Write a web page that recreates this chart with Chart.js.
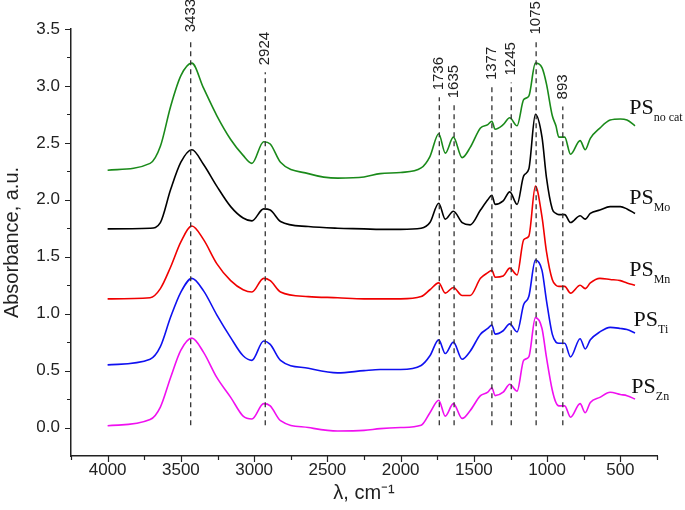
<!DOCTYPE html>
<html>
<head>
<meta charset="utf-8">
<script src="https://cdn.jsdelivr.net/npm/chart.js@4.4.0/dist/chart.umd.min.js"></script>
<style>
  html, body { margin: 0; padding: 0; background: #fff; }
</style>
</head>
<body>
<canvas id="espectroChart" width="685" height="510"></canvas>
<script>
// número de onda (cm-1), mesmo eixo para todas as amostras
const numerosDeOnda = [4000, 3710, 3640, 3570, 3500, 3425, 3345, 3255, 3160, 3075,
  3015, 2935, 2890, 2820, 2630, 2430, 2250, 2140, 2000, 1860,
  1800, 1740, 1695, 1640, 1580, 1525, 1455, 1405, 1377, 1355,
  1300, 1255, 1205, 1160, 1125, 1080, 1035, 1005, 965, 940,
  920, 880, 840, 775, 740, 705, 640, 570, 500, 455, 400];

const psNoCat = [2.26, 2.32, 2.47, 2.82, 3.09, 3.20, 2.98, 2.74, 2.53, 2.39,
  2.32, 2.51, 2.49, 2.33, 2.23, 2.19, 2.20, 2.23, 2.24, 2.28,
  2.38, 2.58, 2.41, 2.55, 2.37, 2.46, 2.63, 2.66, 2.69, 2.62,
  2.66, 2.72, 2.65, 2.88, 2.91, 3.20, 3.16, 3.02, 2.74, 2.65,
  2.55, 2.55, 2.40, 2.52, 2.44, 2.54, 2.63, 2.70, 2.71, 2.70, 2.65];

const psMo = [1.745, 1.75, 1.80, 2.09, 2.33, 2.44, 2.31, 2.12, 1.94, 1.84,
  1.815, 1.92, 1.91, 1.81, 1.765, 1.75, 1.745, 1.74, 1.74, 1.75,
  1.80, 1.97, 1.83, 1.90, 1.80, 1.78, 1.91, 2.00, 2.04, 1.96,
  1.99, 2.07, 1.96, 2.21, 2.27, 2.75, 2.55, 2.20, 1.92, 1.88,
  1.87, 1.87, 1.80, 1.86, 1.83, 1.88, 1.91, 1.94, 1.94, 1.92, 1.88];

const psMn = [1.13, 1.14, 1.22, 1.41, 1.63, 1.77, 1.65, 1.44, 1.29, 1.21,
  1.19, 1.31, 1.29, 1.19, 1.15, 1.14, 1.13, 1.13, 1.13, 1.15,
  1.21, 1.27, 1.18, 1.23, 1.16, 1.16, 1.31, 1.36, 1.38, 1.32,
  1.33, 1.40, 1.34, 1.65, 1.68, 2.12, 1.85, 1.55, 1.30, 1.25,
  1.24, 1.24, 1.18, 1.25, 1.22, 1.27, 1.31, 1.30, 1.29, 1.27, 1.25];

const psTi = [0.55, 0.60, 0.71, 0.97, 1.19, 1.31, 1.20, 0.99, 0.79, 0.63,
  0.59, 0.76, 0.73, 0.59, 0.52, 0.48, 0.50, 0.51, 0.51, 0.545,
  0.63, 0.77, 0.65, 0.75, 0.60, 0.67, 0.82, 0.87, 0.90, 0.82,
  0.85, 0.91, 0.84, 1.08, 1.15, 1.47, 1.38, 1.12, 0.82, 0.75,
  0.74, 0.74, 0.62, 0.78, 0.69, 0.77, 0.84, 0.88, 0.87, 0.86, 0.83];

const psZn = [0.015, 0.07, 0.18, 0.44, 0.68, 0.785, 0.66, 0.44, 0.265, 0.10,
  0.075, 0.21, 0.19, 0.06, 0.0, -0.03, -0.025, -0.01, 0.0, 0.02,
  0.13, 0.24, 0.10, 0.21, 0.08, 0.15, 0.28, 0.31, 0.35, 0.28,
  0.31, 0.38, 0.32, 0.59, 0.62, 0.965, 0.87, 0.62, 0.33, 0.22,
  0.19, 0.19, 0.09, 0.21, 0.13, 0.22, 0.265, 0.31, 0.29, 0.28, 0.25];

// bandas marcadas com linha tracejada
const picos = [3433, 2924, 1736, 1635, 1377, 1245, 1075, 893];
const topoPicos = [3.41, 3.12, 2.90, 2.83, 2.99, 3.03, 3.39, 2.82];
const basePicos = 0.02;

const amostras = ['no cat', 'Mo', 'Mn', 'Ti', 'Zn'];

const xTicks = [4000, 3500, 3000, 2500, 2000, 1500, 1000, 500];
const yTicks = [0, 0.5, 1, 1.5, 2, 2.5, 3, 3.5];

const FONTE = "'Liberation Sans', Arial, sans-serif";
const SERIFA = "'Liberation Serif', 'Times New Roman', serif";

function serie(valores) {
  return numerosDeOnda.map((x, i) => ({ x, y: valores[i] }));
}

// posição dos rótulos PS (número de onda, absorbância da linha de base do texto)
const posRotulos = [[440, 2.75], [440, 1.965], [440, 1.33], [410, 0.89], [425, 0.30]];

const marcasEixos = {
  id: 'marcasEixos',
  afterDraw(chart) {
    const { ctx, chartArea } = chart;
    const x = chart.scales.x;
    const y = chart.scales.y;
    ctx.save();
    ctx.strokeStyle = '#222';
    ctx.lineWidth = 1.2;
    ctx.beginPath();
    for (let v = 250; v <= 4250; v += 250) {
      const px = Math.round(x.getPixelForValue(v)) + 0.5;
      const len = v % 500 === 0 ? 6 : 4;
      ctx.moveTo(px, chartArea.bottom);
      ctx.lineTo(px, chartArea.bottom + len);
    }
    for (let k = 0; k <= 14; k++) {
      const v = k * 0.25;
      const py = Math.round(y.getPixelForValue(v)) + 0.5;
      const len = k % 2 === 0 ? 6 : 4;
      ctx.moveTo(chartArea.left, py);
      ctx.lineTo(chartArea.left - len, py);
    }
    ctx.stroke();

    // números das bandas, girados
    ctx.fillStyle = '#222';
    ctx.font = '15px ' + FONTE;
    ctx.textAlign = 'left';
    ctx.textBaseline = 'middle';
    picos.forEach((p, i) => {
      const px = x.getPixelForValue(p);
      const py = y.getPixelForValue(topoPicos[i]) - 7;
      ctx.save();
      ctx.translate(px, py);
      ctx.rotate(-Math.PI / 2);
      ctx.fillText(String(p), 0, 0);
      ctx.restore();
    });

    // rótulos das amostras
    ctx.fillStyle = '#111';
    ctx.textBaseline = 'alphabetic';
    amostras.forEach((nome, i) => {
      const px = x.getPixelForValue(posRotulos[i][0]);
      const py = y.getPixelForValue(posRotulos[i][1]);
      ctx.font = '22px ' + SERIFA;
      ctx.fillText('PS', px, py);
      const w = ctx.measureText('PS').width;
      ctx.font = '12px ' + SERIFA;
      ctx.fillText(nome, px + w, py + 7);
    });
    ctx.restore();
  }
};

const linhasPicos = picos.map((p, i) => ({
  data: [{ x: p, y: basePicos }, { x: p, y: topoPicos[i] }],
  borderColor: '#333',
  borderWidth: 1.3,
  borderDash: [5, 4],
  pointRadius: 0,
  tension: 0
}));

function espectro(valores, cor) {
  return {
    data: serie(valores),
    borderColor: cor,
    borderWidth: 1.6,
    pointRadius: 0,
    cubicInterpolationMode: 'monotone'
  };
}

const ctx = document.getElementById('espectroChart').getContext('2d');

new Chart(ctx, {
  type: 'line',
  data: {
    datasets: [
      ...linhasPicos,
      espectro(psNoCat, '#1a8a1a'),
      espectro(psMo, '#000000'),
      espectro(psMn, '#f00000'),
      espectro(psTi, '#1010f0'),
      espectro(psZn, '#f010f0')
    ]
  },
  options: {
    responsive: false,
    animation: false,
    layout: { padding: { top: 29, right: 28, left: 0, bottom: 0 } },
    plugins: {
      legend: { display: false },
      tooltip: { enabled: false }
    },
    scales: {
      x: {
        type: 'linear',
        reverse: true,
        min: 250,
        max: 4250,
        afterBuildTicks: (s) => { s.ticks = xTicks.map(v => ({ value: v })); },
        afterFit: (s) => { s.height = 54; },
        grid: { display: false, drawTicks: false },
        border: { display: true, color: '#222', width: 1.5 },
        ticks: {
          color: '#222',
          autoSkip: false,
          maxRotation: 0,
          padding: 4,
          font: { family: FONTE, size: 17 },
          callback: (v) => String(v)
        },
        title: {
          display: true,
          text: 'λ, cm⁻¹',
          color: '#222',
          font: { family: FONTE, size: 20 },
          padding: { top: 0, bottom: 5 }
        }
      },
      y: {
        min: -0.25,
        max: 3.5,
        afterBuildTicks: (s) => { s.ticks = yTicks.map(v => ({ value: v })); },
        afterFit: (s) => { s.width = 71; },
        grid: { display: false, drawTicks: false },
        border: { display: true, color: '#222', width: 1.5 },
        ticks: {
          color: '#222',
          padding: 11,
          font: { family: FONTE, size: 17 },
          callback: (v) => v.toFixed(1)
        },
        title: {
          display: true,
          text: 'Absorbance, a.u.',
          color: '#222',
          font: { family: FONTE, size: 20, lineHeight: 1 },
          padding: { top: 2, bottom: 0 }
        }
      }
    }
  },
  plugins: [marcasEixos]
});
</script>
</body>
</html>
